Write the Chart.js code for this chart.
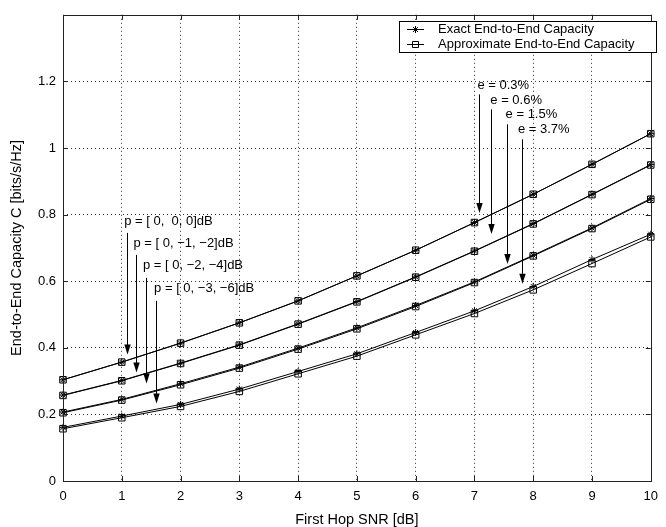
<!DOCTYPE html>
<html lang="en">
<head>
  <meta charset="UTF-8">
  <title>End-to-End Capacity vs First Hop SNR</title>
  <script src="https://cdn.jsdelivr.net/npm/chart.js"></script>
  <style>
    html, body { margin: 0; padding: 0; background: #fff; }
    #wrap { width: 666px; height: 527px; }
  </style>
</head>
<body>
  <div id="wrap"><canvas id="capChart" width="666" height="527"></canvas></div>
  <script>
    // x axis: first hop SNR [dB]
    const snrDb = [0, 1, 2, 3, 4, 5, 6, 7, 8, 9, 10];

    // p = [0, 0, 0] dB
    const exactP0  = [0.304, 0.357, 0.414, 0.475, 0.541, 0.616, 0.693, 0.776, 0.861, 0.951, 1.043];
    const approxP0 = [0.304, 0.357, 0.414, 0.475, 0.541, 0.616, 0.693, 0.776, 0.861, 0.951, 1.043];
    // p = [0, -1, -2] dB
    const exactP1  = [0.258, 0.302, 0.354, 0.409, 0.472, 0.539, 0.613, 0.691, 0.773, 0.861, 0.950];
    const approxP1 = [0.257, 0.301, 0.353, 0.408, 0.471, 0.538, 0.612, 0.690, 0.772, 0.860, 0.949];
    // p = [0, -2, -4] dB
    const exactP2  = [0.207, 0.245, 0.292, 0.342, 0.399, 0.460, 0.527, 0.598, 0.678, 0.760, 0.848];
    const approxP2 = [0.205, 0.243, 0.289, 0.339, 0.396, 0.457, 0.524, 0.596, 0.676, 0.758, 0.846];
    // p = [0, -3, -6] dB
    const exactP3  = [0.161, 0.195, 0.230, 0.276, 0.329, 0.382, 0.446, 0.511, 0.584, 0.665, 0.741];
    const approxP3 = [0.157, 0.190, 0.224, 0.269, 0.322, 0.375, 0.439, 0.503, 0.574, 0.653, 0.733];

    const yTicks = [0, 0.2, 0.4, 0.6, 0.8, 1, 1.2];
    const legendLabels = ['Exact End-to-End Capacity', 'Approximate End-to-End Capacity'];
    const pLabels = ['p = [ 0,  0, 0]dB', 'p = [ 0, \u22121, \u22122]dB', 'p = [ 0, \u22122, \u22124]dB', 'p = [ 0, \u22123, \u22126]dB'];
    const eLabels = ['e = 0.3%', 'e = 0.6%', 'e = 1.5%', 'e = 3.7%'];

    // annotation placement, in data units: text (x,y), arrow x, arrow from y -> to y
    const pNotes = [
      { tx: 1.04, ty: 0.781, ax: 1.09, y0: 0.745, y1: 0.380 },
      { tx: 1.20, ty: 0.712, ax: 1.25, y0: 0.679, y1: 0.326 },
      { tx: 1.36, ty: 0.646, ax: 1.41, y0: 0.610, y1: 0.293 },
      { tx: 1.55, ty: 0.577, ax: 1.58, y0: 0.541, y1: 0.233 }
    ];
    const eNotes = [
      { tx: 7.05, ty: 1.188, ax: 7.08, y0: 1.161, y1: 0.805 },
      { tx: 7.27, ty: 1.143, ax: 7.29, y0: 1.116, y1: 0.742 },
      { tx: 7.53, ty: 1.101, ax: 7.55, y0: 1.071, y1: 0.652 },
      { tx: 7.74, ty: 1.056, ax: 7.81, y0: 1.026, y1: 0.592 }
    ];

    const FONT = '"Liberation Sans", Arial, Helvetica, sans-serif';

    function exactSet(data) {
      return {
        data, borderColor: '#000', borderWidth: 1, tension: 0, clip: false,
        pointStyle: 'star', pointRadius: 3.5, pointBorderWidth: 1,
        pointBorderColor: '#000', pointBackgroundColor: '#000'
      };
    }
    function approxSet(data) {
      return {
        data, borderColor: '#000', borderWidth: 1, tension: 0, clip: false,
        pointStyle: 'rect', pointRadius: 4.6, pointBorderWidth: 1,
        pointBorderColor: '#000', pointBackgroundColor: 'rgba(0,0,0,0)'
      };
    }

    function arrow(ctx, x, ya, yb) {
      ctx.beginPath();
      ctx.moveTo(x, ya);
      ctx.lineTo(x, yb - 9);
      ctx.stroke();
      ctx.beginPath();
      ctx.moveTo(x, yb);
      ctx.lineTo(x - 3.2, yb - 10);
      ctx.lineTo(x + 3.2, yb - 10);
      ctx.closePath();
      ctx.fill();
    }

    // box, inward ticks, annotations and legend in MATLAB style
    const matlabLook = {
      id: 'matlabLook',
      afterDatasetsDraw(chart) {
        const { ctx, chartArea: a, scales: { x, y } } = chart;
        ctx.save();
        ctx.strokeStyle = '#222';
        ctx.lineWidth = 1;
        ctx.strokeRect(Math.round(a.left) + 0.5, Math.round(a.top) + 0.5,
          Math.round(a.right - a.left), Math.round(a.bottom - a.top));
        ctx.beginPath();
        snrDb.forEach(v => {
          const px = Math.round(x.getPixelForValue(v)) + 0.5;
          ctx.moveTo(px, a.bottom); ctx.lineTo(px, a.bottom - 5);
          ctx.moveTo(px, a.top); ctx.lineTo(px, a.top + 5);
        });
        yTicks.forEach(v => {
          const py = Math.round(y.getPixelForValue(v)) + 0.5;
          ctx.moveTo(a.left, py); ctx.lineTo(a.left + 5, py);
          ctx.moveTo(a.right, py); ctx.lineTo(a.right - 5, py);
        });
        ctx.stroke();

        // annotations
        ctx.fillStyle = '#000';
        ctx.strokeStyle = '#000';
        ctx.font = '13px ' + FONT;
        ctx.textBaseline = 'middle';
        ctx.textAlign = 'left';
        const notes = pNotes.map((n, i) => [n, pLabels[i]]).concat(eNotes.map((n, i) => [n, eLabels[i]]));
        notes.forEach(([n, label]) => {
          ctx.fillText(label, x.getPixelForValue(n.tx), y.getPixelForValue(n.ty));
          arrow(ctx, Math.round(x.getPixelForValue(n.ax)) + 0.5, y.getPixelForValue(n.y0), y.getPixelForValue(n.y1));
        });

        // legend
        const lx = 399, ly = 21, lw = 257, lh = 31;
        ctx.fillStyle = '#fff';
        ctx.fillRect(lx, ly, lw, lh);
        ctx.strokeStyle = '#000';
        ctx.strokeRect(lx + 0.5, ly + 0.5, lw, lh);
        const rows = [29.5, 44.5];
        rows.forEach((ry, i) => {
          ctx.beginPath();
          ctx.moveTo(407, ry); ctx.lineTo(424, ry);
          ctx.stroke();
          const cx = 415.5;
          ctx.beginPath();
          if (i === 0) {
            const r = 3.5, d = r * Math.SQRT1_2;
            ctx.moveTo(cx - r, ry); ctx.lineTo(cx + r, ry);
            ctx.moveTo(cx, ry - r); ctx.lineTo(cx, ry + r);
            ctx.moveTo(cx - d, ry - d); ctx.lineTo(cx + d, ry + d);
            ctx.moveTo(cx - d, ry + d); ctx.lineTo(cx + d, ry - d);
          } else {
            ctx.rect(cx - 3, ry - 3, 6, 6);
          }
          ctx.stroke();
          ctx.fillStyle = '#000';
          ctx.fillText(legendLabels[i], 438, ry);
        });
        ctx.restore();
      }
    };

    new Chart(document.getElementById('capChart'), {
      type: 'line',
      data: {
        labels: snrDb,
        datasets: [
          exactSet(exactP0), approxSet(approxP0),
          exactSet(exactP1), approxSet(approxP1),
          exactSet(exactP2), approxSet(approxP2),
          exactSet(exactP3), approxSet(approxP3)
        ]
      },
      options: {
        responsive: false,
        animation: false,
        events: [],
        layout: { padding: { top: 13, right: 9, left: 0, bottom: 0 } },
        plugins: { legend: { display: false }, tooltip: { enabled: false } },
        scales: {
          x: {
            type: 'linear', min: 0, max: 10,
            afterFit(s) { s.height = 46; },
            afterBuildTicks(s) { s.ticks = snrDb.map(v => ({ value: v })); },
            border: { display: false, dash: [1, 3] },
            grid: {
              drawTicks: false, color: ctx => (ctx.tick && (ctx.tick.value === 0 || ctx.tick.value === 10)) ? 'rgba(0,0,0,0)' : '#333', lineWidth: 1
            },
            ticks: { padding: 8, maxRotation: 0, autoSkip: false, color: '#000', font: { family: FONT, size: 13 } },
            title: { display: true, text: 'First Hop SNR [dB]', color: '#000', padding: { top: 0, bottom: 0 }, font: { family: FONT, size: 14.5, lineHeight: 1 } }
          },
          y: {
            type: 'linear', min: 0, max: 1.4,
            afterFit(s) { s.width = 63; },
            afterBuildTicks(s) { s.ticks = yTicks.map(v => ({ value: v })); },
            border: { display: false, dash: [1, 3] },
            grid: {
              drawTicks: false, color: ctx => (ctx.tick && ctx.tick.value === 0) ? 'rgba(0,0,0,0)' : '#333', lineWidth: 1
            },
            ticks: {
              padding: 7, color: '#000', font: { family: FONT, size: 13 },
              callback: v => String(Number(v.toFixed(1)))
            },
            title: { display: true, text: 'End-to-End Capacity C [bits/s/Hz]', color: '#000', padding: { top: 10, bottom: 0 }, font: { family: FONT, size: 14.5, lineHeight: 1 } }
          }
        }
      },
      plugins: [matlabLook]
    });
  </script>
</body>
</html>
